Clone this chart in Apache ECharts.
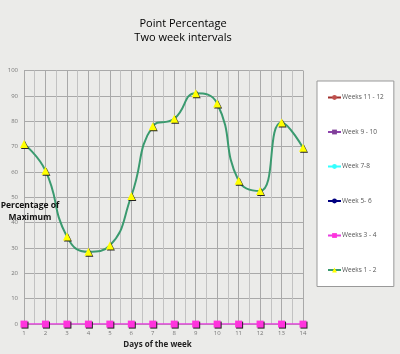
<!DOCTYPE html>
<html>
<head>
<meta charset="utf-8">
<script src="https://cdn.jsdelivr.net/npm/echarts@6/dist/echarts.min.js"></script>
<style>
html, body { margin: 0; padding: 0; }
#chart { width: 400px; height: 354px; }
</style>
</head>
<body>
<div id="chart"></div>
<script>
// 数据
const days = [1, 2, 3, 4, 5, 6, 7, 8, 9, 10, 11, 12, 13, 14]
const weeks1_2 = [71, 60.5, 34.5, 28.5, 31, 50.5, 78, 81, 91, 87, 56.5, 52.5, 79.5, 69.5]
const weeks3_4 = [0, 0, 0, 0, 0, 0, 0, 0, 0, 0, 0, 0, 0, 0]
const week5_6 = []
const week7_8 = []
const week9_10 = []
const weeks11_12 = []
const seriesNames = ['Weeks 11 - 12', 'Week 9 - 10', 'Week 7-8', 'Week 5- 6', 'Weeks 3 - 4', 'Weeks 1 - 2']

const pair = arr => arr.map((v, i) => [days[i], v])

const chart = echarts.init(document.getElementById('chart'))
const font = '"Open Sans", "Liberation Sans", sans-serif'

chart.setOption({
    backgroundColor: '#ebebe9',
    animation: false,
    title: {
        text: 'Point Percentage\nTwo week intervals',
        left: 178,
        textAlign: 'center',
        top: 12,
        textStyle: { fontFamily: font, fontSize: 11, fontWeight: 500, color: '#000', lineHeight: 14 }
    },
    grid: { left: 24, right: 97, top: 70.5, bottom: 27.5 },
    legend: {
        orient: 'vertical',
        left: 317,
        top: 81,
        width: 75,
        height: 205,
        padding: [13, 10, 13, 10],
        itemGap: 27.5,
        itemWidth: 13,
        itemHeight: 6,
        backgroundColor: '#fff',
        borderColor: '#999',
        borderWidth: 1,
        data: seriesNames,
        textStyle: { fontFamily: font, fontSize: 6.5, color: '#555', padding: [0, 0, 0, -4] }
    },
    xAxis: {
        type: 'value',
        min: 1,
        max: 14,
        interval: 1,
        name: 'Days of the week',
        nameLocation: 'middle',
        nameGap: 14,
        nameTextStyle: { fontFamily: font, fontSize: 8, fontWeight: 'bold', color: '#222', padding: [0, 0, 0, -12] },
        axisLine: { show: false },
        axisTick: { show: false },
        axisLabel: { fontFamily: font, fontSize: 6, color: '#777', margin: 6 },
        splitLine: { show: true, lineStyle: { color: '#a9a9a9', width: 1 } },
        minorTick: { show: false, splitNumber: 2 },
        minorSplitLine: { show: true, lineStyle: { color: '#c2c2c2', width: 1 } }
    },
    yAxis: {
        type: 'value',
        min: 0,
        max: 100,
        interval: 10,
        axisLine: { show: false },
        axisTick: { show: false },
        axisLabel: { fontFamily: font, fontSize: 6, color: '#777', margin: 6 },
        splitLine: { show: true, lineStyle: { color: '#a9a9a9', width: 1 } }
    },
    graphic: [{
        type: 'text',
        x: 30,
        y: 200,
        style: {
            text: 'Percentage of\nMaximum',
            align: 'center',
            verticalAlign: 'top',
            font: 'bold 8.5px ' + font,
            fill: '#111',
            lineHeight: 12
        },
        z: 100
    }],
    series: [
        { name: 'Weeks 11 - 12', type: 'line', data: pair(weeks11_12), symbol: 'circle', symbolSize: 4,
          itemStyle: { color: '#c0504d' }, lineStyle: { color: '#a0302d', width: 1.5 } },
        { name: 'Week 9 - 10', type: 'line', data: pair(week9_10), symbol: 'rect', symbolSize: 4,
          itemStyle: { color: '#7f3f98' }, lineStyle: { color: '#8e44ad', width: 1.5 } },
        { name: 'Week 7-8', type: 'line', data: pair(week7_8), symbol: 'none',
          itemStyle: { color: '#33ffff' }, lineStyle: { color: '#33ffff', width: 2 } },
        { name: 'Week 5- 6', type: 'line', data: pair(week5_6), symbol: 'circle', symbolSize: 3,
          itemStyle: { color: '#000080' }, lineStyle: { color: '#000080', width: 1.5 } },
        { name: 'Weeks 3 - 4', type: 'line', data: pair(weeks3_4), symbol: 'rect', symbolSize: 7,
          itemStyle: { color: '#ff33dd', shadowColor: '#222', shadowOffsetX: 1, shadowOffsetY: 1, shadowBlur: 0 },
          lineStyle: { color: '#e83ee0', width: 1.5, shadowBlur: 0 }, z: 5 },
        { name: 'Weeks 1 - 2', type: 'line', data: pair(weeks1_2), symbol: 'triangle', symbolSize: 8,
          smooth: 0.5,
          itemStyle: { color: '#ffff00', shadowColor: '#222', shadowOffsetX: 1, shadowOffsetY: 1, shadowBlur: 0 },
          lineStyle: { color: '#3a9a6f', width: 2 }, z: 4 }
    ]
})
</script>
</body>
</html>
